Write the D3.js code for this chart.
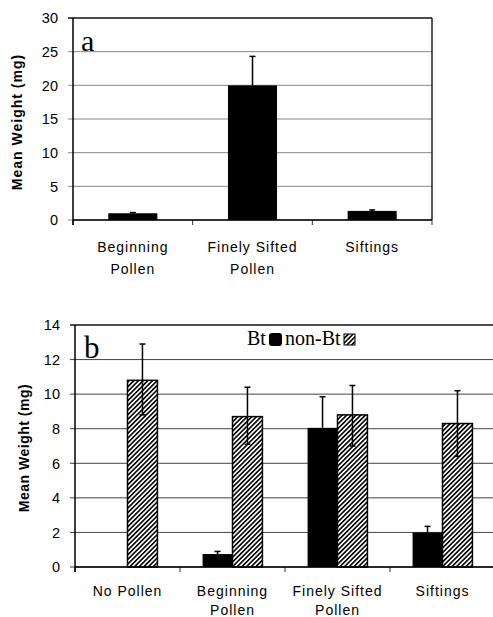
<!DOCTYPE html>
<html>
<head>
<meta charset="utf-8">
<script src="https://cdn.jsdelivr.net/npm/d3@7"></script>
<style>
body { margin: 0; background: #fff; }
text { font-family: Arial, "Liberation Sans", sans-serif; }
.serif { font-family: "Times New Roman", "Liberation Serif", serif; }
</style>
</head>
<body>
<div id="chart"></div>
<script>
// panel a data
var catsA = [["Beginning", "Pollen"], ["Finely Sifted", "Pollen"], ["Siftings"]];
var meanA = [1.0, 20.0, 1.35];
var errA = [1.1, 24.3, 1.5];
var ticksA = [0, 5, 10, 15, 20, 25, 30];

// panel b data
var catsB = [["No Pollen"], ["Beginning", "Pollen"], ["Finely Sifted", "Pollen"], ["Siftings"]];
var series = ["Bt", "non-Bt"];
var btMean = [null, 0.75, 8.05, 2.0];
var btHi = [null, 0.9, 9.85, 2.35];
var nonMean = [10.8, 8.7, 8.8, 8.3];
var nonHi = [12.9, 10.4, 10.5, 10.2];
var nonLo = [8.8, 7.1, 7.0, 6.4];
var ticksB = [0, 2, 4, 6, 8, 10, 12, 14];

var W = 493, H = 617;
var svg = d3.select("#chart").append("svg")
	.attr("width", W)
	.attr("height", H);

var defs = svg.append("defs");
var pat = defs.append("pattern")
	.attr("id", "hatch")
	.attr("patternUnits", "userSpaceOnUse")
	.attr("width", 3.3)
	.attr("height", 3.3)
	.attr("patternTransform", "rotate(45)");
pat.append("rect").attr("width", 3.3).attr("height", 3.3).attr("fill", "#fff");
pat.append("line")
	.attr("x1", 0).attr("y1", 0).attr("x2", 0).attr("y2", 3.3)
	.attr("stroke", "#000").attr("stroke-width", 3.2);

// shared helper: frame, grid, y axis, x labels
function drawFrame(g, x, y, ticks, cats, gridColor, left, right, top, bottom, labOff, lineGap) {
	// gridlines
	g.append("g").selectAll("line")
		.data(ticks)
		.enter().append("line")
		.attr("x1", left - 5)
		.attr("x2", right)
		.attr("y1", function(d) {return y(d);})
		.attr("y2", function(d) {return y(d);})
		.attr("stroke", function(d, i) {return i == ticks.length - 1 ? "#111" : gridColor;})
		.attr("stroke-width", function(d, i) {return i == ticks.length - 1 ? 1.5 : 1;});

	// right border
	g.append("line")
		.attr("x1", right).attr("x2", right)
		.attr("y1", top).attr("y2", bottom)
		.attr("stroke", "#222").attr("stroke-width", 1.5);

	// y tick labels
	g.append("g").selectAll("text")
		.data(ticks)
		.enter().append("text")
		.text(function(d) {return d;})
		.attr("x", left - 15)
		.attr("y", function(d) {return y(d);})
		.attr("dy", "0.36em")
		.attr("text-anchor", "end")
		.attr("font-size", 14.5)
		.attr("fill", "#000");

	// x category ticks at band edges
	var edges = x.domain().map(function(d) {return x(d) - x.step() * x.paddingInner() / 2;});
	edges.push(right);
	g.append("g").selectAll("line")
		.data(edges)
		.enter().append("line")
		.attr("x1", function(d) {return d;})
		.attr("x2", function(d) {return d;})
		.attr("y1", bottom)
		.attr("y2", bottom + 5)
		.attr("stroke", "#333");

	// x labels
	var lab = g.append("g").selectAll("text")
		.data(cats)
		.enter().append("text")
		.attr("text-anchor", "middle")
		.attr("font-size", 14)
		.attr("letter-spacing", "1px")
		.attr("fill", "#000")
		.attr("transform", function(d, i) {return "translate(" + (x(i) + x.bandwidth() / 2) + "," + (bottom + labOff) + ")";});
	lab.selectAll("tspan")
		.data(function(d) {return d;})
		.enter().append("tspan")
		.attr("x", 0)
		.attr("dy", function(d, i) {return i == 0 ? 0 : lineGap;})
		.text(function(d) {return d;});
}

function errBar(g, cx, y0, y1) {
	g.append("line")
		.attr("x1", cx).attr("x2", cx)
		.attr("y1", y0).attr("y2", y1)
		.attr("stroke", "#000").attr("stroke-width", 1.5);
}
function cap(g, cx, yy) {
	g.append("line")
		.attr("x1", cx - 3).attr("x2", cx + 3)
		.attr("y1", yy).attr("y2", yy)
		.attr("stroke", "#000").attr("stroke-width", 1.5);
}

// ---------- panel a ----------
var aL = 73, aR = 432, aT = 18, aB = 220;
var xA = d3.scaleBand()
	.domain(d3.range(catsA.length))
	.range([aL, aR])
	.paddingInner(0.59)
	.paddingOuter(0.295);
var yA = d3.scaleLinear().domain([0, 30]).range([aB, aT]);
var gA = svg.append("g");
drawFrame(gA, xA, yA, ticksA, catsA, "#888", aL, aR, aT, aB, 32, 22);

gA.append("g").selectAll("rect")
	.data(meanA)
	.enter().append("rect")
	.attr("x", function(d, i) {return xA(i);})
	.attr("y", function(d) {return yA(d);})
	.attr("width", xA.bandwidth())
	.attr("height", function(d) {return aB - yA(d);})
	.attr("fill", "#000");
meanA.forEach(function(d, i) {
	var cx = xA(i) + xA.bandwidth() / 2;
	errBar(gA, cx, yA(d), yA(errA[i]));
	cap(gA, cx, yA(errA[i]));
});

// axes lines
gA.append("line").attr("x1", aL).attr("x2", aL).attr("y1", aT).attr("y2", aB + 5)
	.attr("stroke", "#000").attr("stroke-width", 1.5);
gA.append("line").attr("x1", aL).attr("x2", aR).attr("y1", aB).attr("y2", aB)
	.attr("stroke", "#000").attr("stroke-width", 1.5);

gA.append("text").attr("class", "serif")
	.attr("x", 81).attr("y", 51)
	.attr("font-size", 30)
	.text("a");

gA.append("text")
	.attr("transform", "translate(22," + 122 + ") rotate(-90)")
	.attr("text-anchor", "middle")
	.attr("font-size", 14)
	.attr("font-weight", "bold")
	.attr("letter-spacing", "1px")
	.text("Mean Weight (mg)");

// ---------- panel b ----------
var bL = 75, bR = 495, bT = 325, bB = 567;
var xB = d3.scaleBand()
	.domain(d3.range(catsB.length))
	.range([bL, bR])
	.paddingInner(0.43)
	.paddingOuter(0.215);
var xSub = d3.scaleBand().domain(series).range([0, xB.bandwidth()]);
var yB = d3.scaleLinear().domain([0, 14]).range([bB, bT]);
var gB = svg.append("g");
drawFrame(gB, xB, yB, ticksB, catsB, "#444", bL, bR, bT, bB, 29, 19);

// Bt bars
btMean.forEach(function(d, i) {
	if (d == null) return;
	var x0 = xB(i) + xSub("Bt");
	var cx = x0 + xSub.bandwidth() / 2;
	errBar(gB, cx, yB(d), yB(btHi[i]));
	cap(gB, cx, yB(btHi[i]));
	gB.append("rect")
		.attr("x", x0).attr("y", yB(d))
		.attr("width", xSub.bandwidth())
		.attr("height", bB - yB(d))
		.attr("fill", "#000");
});
// non-Bt bars
nonMean.forEach(function(d, i) {
	var x0 = xB(i) + xSub("non-Bt");
	var cx = x0 + xSub.bandwidth() / 2;
	gB.append("rect")
		.attr("x", x0).attr("y", yB(d))
		.attr("width", xSub.bandwidth())
		.attr("height", bB - yB(d))
		.attr("fill", "url(#hatch)")
		.attr("stroke", "#000")
		.attr("stroke-width", 1.5);
	errBar(gB, cx, yB(nonLo[i]), yB(nonHi[i]));
	cap(gB, cx, yB(nonHi[i]));
	cap(gB, cx, yB(nonLo[i]));
});

gB.append("line").attr("x1", bL).attr("x2", bL).attr("y1", bT).attr("y2", bB + 5)
	.attr("stroke", "#000").attr("stroke-width", 1.5);
gB.append("line").attr("x1", bL).attr("x2", bR).attr("y1", bB).attr("y2", bB)
	.attr("stroke", "#000").attr("stroke-width", 1.5);

gB.append("text").attr("class", "serif")
	.attr("x", 84).attr("y", 358)
	.attr("font-size", 31)
	.text("b");

// legend
var leg = gB.append("g");
leg.append("text").attr("class", "serif")
	.attr("x", 247).attr("y", 345).attr("font-size", 20).text(series[0]);
leg.append("rect")
	.attr("x", 269).attr("y", 333).attr("width", 13).attr("height", 13)
	.attr("rx", 3).attr("fill", "#000");
leg.append("text").attr("class", "serif")
	.attr("x", 285).attr("y", 345).attr("font-size", 20).text(series[1]);
leg.append("rect")
	.attr("x", 344).attr("y", 334).attr("width", 11).attr("height", 11)
	.attr("fill", "url(#hatch)").attr("stroke", "#000").attr("stroke-width", 1);

gB.append("text")
	.attr("transform", "translate(29," + 448 + ") rotate(-90)")
	.attr("text-anchor", "middle")
	.attr("font-size", 14)
	.attr("font-weight", "bold")
	.attr("letter-spacing", "0.5px")
	.text("Mean Weight (mg)");
</script>
</body>
</html>
